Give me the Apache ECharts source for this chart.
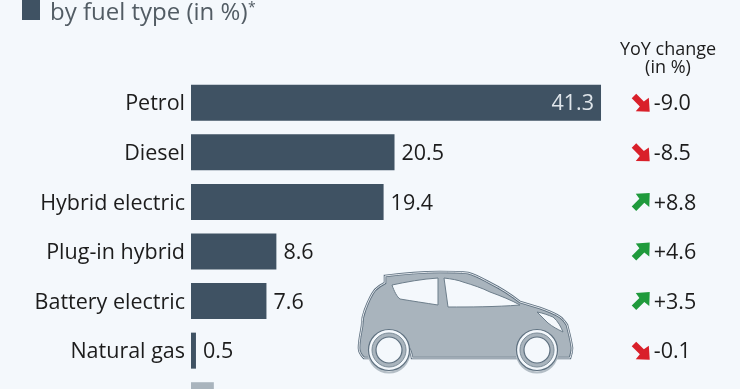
<!DOCTYPE html>
<html>
<head>
<meta charset="utf-8">
<style>
  html, body { margin: 0; padding: 0; background: #f4f8fc; overflow: hidden; }
  #chart { width: 740px; height: 389px; }
</style>
<script src="https://cdn.jsdelivr.net/npm/echarts@6/dist/echarts.min.js"></script>
</head>
<body>
<div id="chart"></div>
<script>
var categories = ['Petrol', 'Diesel', 'Hybrid electric', 'Plug-in hybrid', 'Battery electric', 'Natural gas', 'Other'];
var shares = [41.3, 20.5, 19.4, 8.6, 7.6, 0.5, 2.3];
var yoyChanges = ['-9.0', '-8.5', '+8.8', '+4.6', '+3.5', '-0.1', '-0.2'];
var yoyColumn = 45.3;

var FONT = '"Open Sans", sans-serif';
var BAR = '#3f5263';
var GREY = '#a9b4bd';
var BG = '#f4f8fc';
var INK = '#1c1c1c';

var chart = echarts.init(document.getElementById('chart'));

var arrowPath = 'path://M0,15 L8.5,6.5 L4.5,1 L20,0 L19.5,15.5 L14,11 L5,20 Z';

var body = 'M385,276 C400,274 425,272 440,272 C450,272 460,272 468,273 C478,276 484,280 490,283 C502,289 511,295 520,302 C527,304 533,306 540,308 C548,311 554,313 560,317 C563,319 565,322 567,325 C569,333 571,340 572,348 C572,352 571,355 570,358 L553,358 C552,347 546,333 537,333 C527,333 518,345 517,358 L412,358 C411,347 400,333 389,333 C379,333 371,347 370,358 L364,358 C361,355 359,352 359,348 C359,340 361,333 362,326 C362,320 363,315 365,310 C368,302 371,295 375,290 C378,287 381,285 385,283 Z';
var rearWindow = 'M392,285 C406,282 422,279 438,278 L438,305 C425,303 412,301 400,299 C397,297 394,291 392,285 Z';
var frontWindow = 'M444,278 C452,279 458,280 463,282 C473,285 482,288 490,292 C501,296 511,300 520,305 C495,307 470,307 448,307 Z';
var headlight = 'M537,312 C543,313 548,315 553,317 C558,321 561,327 563,332 C557,329 553,327 548,323 Z';

// the graphic component has no plain path type, so the car outlines are registered as shapes
echarts.graphic.registerShape('carBody', echarts.graphic.extendPath(body));
echarts.graphic.registerShape('carRearWindow', echarts.graphic.extendPath(rearWindow));
echarts.graphic.registerShape('carFrontWindow', echarts.graphic.extendPath(frontWindow));
echarts.graphic.registerShape('carHeadlight', echarts.graphic.extendPath(headlight));

function carPart(type, style, z) {
    return { type: type, style: style, z: z, silent: true };
}

function wheel(cx) {
    return [
        { type: 'circle', shape: { cx: cx, cy: 352, r: 20.5 }, style: { fill: BG, stroke: '#b4bec6', lineWidth: 2 }, z: 12, silent: true },
        { type: 'circle', shape: { cx: cx, cy: 350, r: 20.5 }, style: { fill: BG, stroke: '#5f7180', lineWidth: 1.2 }, z: 13, silent: true },
        { type: 'circle', shape: { cx: cx, cy: 350, r: 17 }, style: { fill: GREY, stroke: '#7d8d99', lineWidth: 1 }, z: 14, silent: true },
        { type: 'circle', shape: { cx: cx, cy: 350, r: 13 }, style: { fill: BG, stroke: '#5f7180', lineWidth: 1.2 }, z: 15, silent: true }
    ];
}

var graphics = [
    { type: 'rect', shape: { x: 22, y: -2, width: 18, height: 22 }, style: { fill: BAR }, silent: true },
    { type: 'text', x: 50, y: 1, style: { text: 'by fuel type (in %)', font: '24px ' + FONT, fill: '#525c64' }, silent: true },
    { type: 'text', x: 248, y: 1, style: { text: '*', font: '14px ' + FONT, fill: '#525c64' }, silent: true },
    { type: 'text', x: 668, y: 41, style: { text: 'YoY change', font: '18px ' + FONT, fill: INK, align: 'center' }, silent: true },
    { type: 'text', x: 668, y: 59, style: { text: '(in %)', font: '18px ' + FONT, fill: INK, align: 'center' }, silent: true },
    carPart('carBody', { fill: GREY, stroke: '#5f7180', lineWidth: 2.6 }, 10),
    carPart('carBody', { fill: 'none', stroke: '#eef2f6', lineWidth: 0.9 }, 10.5),
    carPart('carRearWindow', { fill: BG, stroke: '#6d7e8b', lineWidth: 1 }, 11),
    carPart('carFrontWindow', { fill: BG, stroke: '#6d7e8b', lineWidth: 1 }, 11),
    carPart('carHeadlight', { fill: BG, stroke: '#6d7e8b', lineWidth: 1 }, 11)
].concat(wheel(389), wheel(537));

var barData = [];
var yoyData = [];
for (var i = 0; i < categories.length; i++) {
    var inside = shares[i] > 30;
    barData.push({
        value: shares[i],
        itemStyle: { color: categories[i] === 'Other' ? GREY : BAR },
        label: inside ? { position: 'insideRight', color: '#dfe5ea', distance: 7 } : { position: 'right', color: INK, distance: 7 }
    });
    var down = yoyChanges[i].charAt(0) === '-';
    yoyData.push({
        value: [yoyColumn, categories[i]],
        symbolRotate: down ? -90 : 0,
        itemStyle: { color: down ? '#d9202a' : '#1f9a3c', opacity: 1 },
        label: { show: true, formatter: yoyChanges[i], position: 'right', distance: 4, offset: [0, 1.5], color: INK, opacity: 1, fontSize: 21.5, fontFamily: FONT }
    });
}

var option = {
    animation: false,
    backgroundColor: BG,
    // the last row runs off the bottom of the picture on purpose
    grid: { left: 191, top: 78, width: 549, height: 347, outerBoundsMode: 'none' },
    xAxis: { type: 'value', min: 0, max: 55.3, show: false },
    yAxis: {
        type: 'category',
        inverse: true,
        data: categories,
        axisLine: { show: false },
        axisTick: { show: false },
        axisLabel: {
            margin: 6,
            formatter: '{name|{value}}',
            rich: { name: { padding: [3, 0, 0, 0], color: INK, fontSize: 21.5, fontFamily: FONT } }
        }
    },
    series: [
        {
            type: 'bar',
            barWidth: 36,
            data: barData,
            label: { show: true, offset: [0, 1.5], fontSize: 21.5, fontFamily: FONT }
        },
        {
            type: 'scatter',
            symbol: arrowPath,
            symbolSize: 18,
            data: yoyData
        }
    ],
    graphic: graphics
};

chart.setOption(option);
</script>
</body>
</html>
